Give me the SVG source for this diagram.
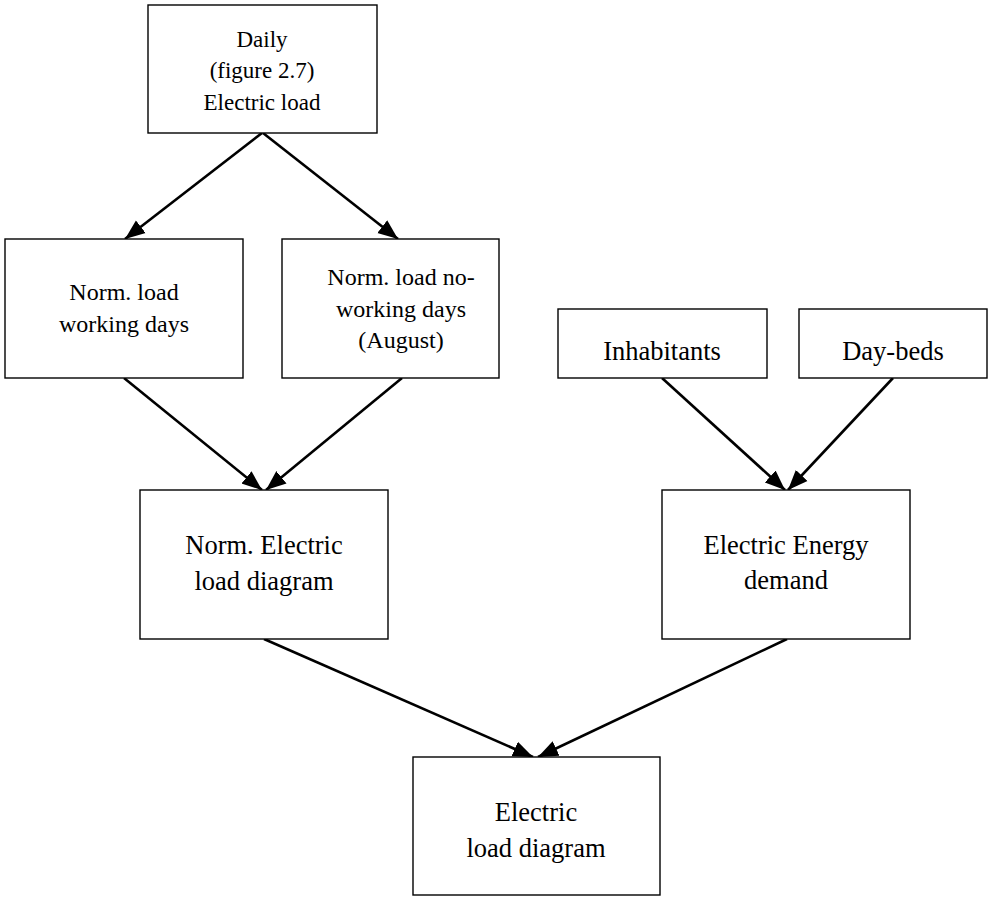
<svg xmlns="http://www.w3.org/2000/svg" width="989" height="908" viewBox="0 0 989 908">
<style>
.box{fill:#fff;stroke:#000;stroke-width:1.4}
.t{font-family:"Liberation Serif","Times New Roman",serif;fill:#000;text-anchor:middle}
.s23{font-size:23px}.s24{font-size:24px}.s26{font-size:26.5px}
.c{stroke:#000;stroke-width:2.6;fill:none;marker-end:url(#ah)}
</style>
<defs>
<marker id="ah" markerUnits="userSpaceOnUse" markerWidth="22" markerHeight="18" refX="20" refY="8" orient="auto" viewBox="0 0 22 16">
<path d="M0,0 L20,8 L0,16 Z" fill="#000"/>
</marker>
</defs>
<rect width="989" height="908" fill="#fff"/>
<g id="connectors">
<line class="c" x1="262" y1="133" x2="125" y2="239"/>
<line class="c" x1="263" y1="133" x2="398" y2="239"/>
<line class="c" x1="124" y1="378" x2="262" y2="490"/>
<line class="c" x1="402" y1="378" x2="266" y2="490"/>
<line class="c" x1="662" y1="378" x2="785" y2="490"/>
<line class="c" x1="893" y1="378" x2="788" y2="490"/>
<line class="c" x1="264" y1="639" x2="533" y2="757"/>
<line class="c" x1="787" y1="639" x2="538" y2="757"/>
</g>
<g id="daily">
<rect class="box" x="148" y="5" width="229" height="128"/>
<text class="t s23" x="262" y="47">Daily</text>
<text class="t s23" x="262" y="78">(figure 2.7)</text>
<text class="t s23" x="262" y="110">Electric load</text>
</g>
<g id="working">
<rect class="box" x="5" y="239" width="238" height="139"/>
<text class="t s24" x="124" y="300">Norm. load</text>
<text class="t s24" x="124" y="332">working days</text>
</g>
<g id="noworking">
<rect class="box" x="282" y="239" width="217" height="139"/>
<text class="t s24" x="401" y="285">Norm. load no-</text>
<text class="t s24" x="401" y="317">working days</text>
<text class="t s24" x="401" y="348">(August)</text>
</g>
<g id="inhabitants">
<rect class="box" x="558" y="309" width="209" height="69"/>
<text class="t s26" x="662" y="360">Inhabitants</text>
</g>
<g id="daybeds">
<rect class="box" x="799" y="309" width="188" height="69"/>
<text class="t s26" x="893" y="360">Day-beds</text>
</g>
<g id="normelectric">
<rect class="box" x="140" y="490" width="248" height="149"/>
<text class="t s26" x="264" y="554">Norm. Electric</text>
<text class="t s26" x="264" y="590">load diagram</text>
</g>
<g id="energydemand">
<rect class="box" x="662" y="490" width="248" height="149"/>
<text class="t s26" x="786" y="554">Electric Energy</text>
<text class="t s26" x="786" y="589">demand</text>
</g>
<g id="loaddiagram">
<rect class="box" x="413" y="757" width="247" height="138"/>
<text class="t s26" x="536" y="821">Electric</text>
<text class="t s26" x="536" y="857">load diagram</text>
</g>
</svg>
